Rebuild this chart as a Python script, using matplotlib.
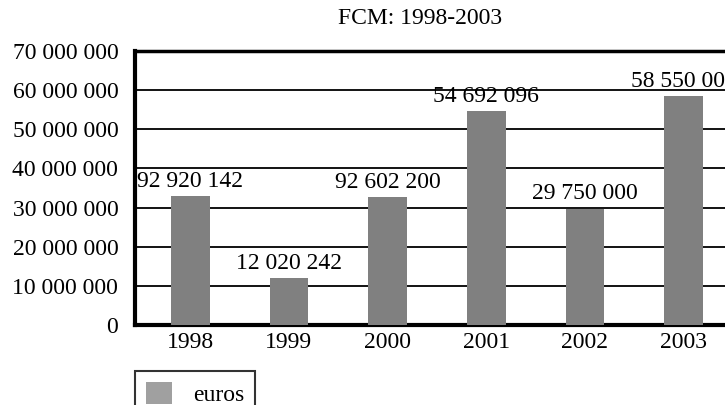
import matplotlib
matplotlib.use("Agg")
import matplotlib.pyplot as plt
from matplotlib.patches import Patch

years = ["1998", "1999", "2000", "2001", "2002", "2003"]
values = [32920142, 12020242, 32602200, 54692096, 29750000, 58550000]
value_labels = ["92 920 142", "12 020 242", "92 602 200", "54 692 096", "29 750 000", "58 550 000"]
yticks = [0, 10000000, 20000000, 30000000, 40000000, 50000000, 60000000, 70000000]
ytick_labels = ["0", "10 000 000", "20 000 000", "30 000 000", "40 000 000",
                "50 000 000", "60 000 000", "70 000 000"]
title = "FCM: 1998-2003"
series_name = "euros"

plt.rcParams['font.family'] = ['Liberation Serif', 'DejaVu Serif']
FS = 17

W, H = 725, 405
fig = plt.figure(figsize=(W / 100, H / 100), dpi=100)
left, right, top, bottom = 135, 733, 51, 325
ax = fig.add_axes([left / W, 1 - bottom / H, (right - left) / W, (bottom - top) / H])

x = list(range(len(years)))
bars = ax.bar(x, values, width=0.39, color="#808080", zorder=3)
ax.set_xlim(-0.56, 5.5)
ax.set_ylim(0, 70000000)
ax.set_yticks(yticks)
ax.set_yticklabels(ytick_labels, fontsize=FS)
ax.set_xticks(x)
ax.set_xticklabels(years, fontsize=FS)
ax.tick_params(axis='both', length=0)
ax.tick_params(axis='y', pad=12)
ax.tick_params(axis='x', pad=5)
ax.grid(axis='y', color='black', linewidth=1.3, zorder=1)
ax.set_axisbelow(True)
for s in ['left', 'bottom']:
    ax.spines[s].set_linewidth(3)
ax.spines['top'].set_linewidth(2.5)
ax.spines['right'].set_visible(False)

for xi, v, lab in zip(x, values, value_labels):
    ax.annotate(lab, (xi, v), xytext=(0, 3), textcoords='offset points',
                ha='center', va='bottom', fontsize=FS, zorder=4)

fig.text(420 / W, 1 - 18 / H, title, ha='center', va='center', fontsize=FS)

leg = fig.legend(handles=[Patch(facecolor="#a0a0a0", edgecolor="none", label=series_name)],
                 loc='upper left', bbox_to_anchor=(135 / W, 1 - 371 / H),
                 fontsize=FS, frameon=True, fancybox=False, borderpad=0.45,
                 handlelength=1.1, handleheight=1.1, handletextpad=0.9, borderaxespad=0)
leg.get_frame().set_edgecolor('black')
leg.get_frame().set_linewidth(1.5)

fig.savefig("out.png", dpi=100)
